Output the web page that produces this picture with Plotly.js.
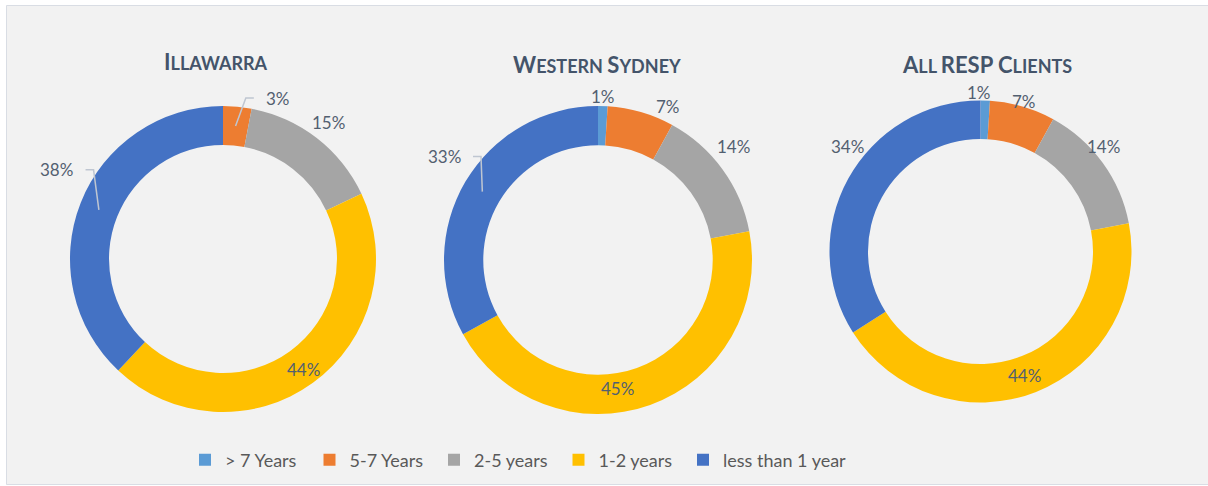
<!DOCTYPE html>
<html>
<head>
<meta charset="utf-8">
<script src="https://cdn.plot.ly/plotly-3.0.1.min.js"></script>
<style>html,body{margin:0;padding:0;background:#fff;}#chart{width:1208px;height:486px;}</style>
</head>
<body>
<div id="chart"></div>
<script>
const categories = ["> 7 Years", "5-7 Years", "2-5 years", "1-2 years", "less than 1 year"];
const illawarra = [0, 3, 15, 44, 38];
const westernSydney = [1, 7, 14, 45, 33];
const allResp = [1, 7, 14, 44, 34];
const chartTitles = [
  [['I', 22], ['LLAWARRA', 18]],
  [['W', 22], ['ESTERN ', 18], ['S', 22], ['YDNEY', 18]],
  [['A', 22], ['LL ', 18], ['RESP ', 22], ['C', 22], ['LIENTS', 18]]
];
const colors = ["#5b9bd5", "#ed7d31", "#a5a5a5", "#ffc000", "#4472c4"];

// ---- layout / style (pixels) ----
const W = 1208, H = 486;
const HOLE = 0.745;
const pies = [
  { cx: 223, cy: 259, r: 153 },
  { cx: 598, cy: 260, r: 154 },
  { cx: 980.5, cy: 251.5, r: 151 }
];
// label placement style per pie/slice: 'out' (outside), 'in' (inside ring), 'lead' (with leader line)
const labelStyle = [
  ['out', 'lead', 'out', 'in', 'lead'],
  ['out', 'out', 'out', 'in', 'lead'],
  ['out', 'out', 'out', 'in', 'out']
];
// small pixel nudges mimicking the original best-fit placement
const labelNudge = [
  [[0, 0], [42, -28], [0, 0], [2, 3], [-42, -40]],
  [[0, 2], [23, 8], [-6, -11], [-26, 2], [-38, -35]],
  [[-7, 3], [-2, 8], [-16, -4], [-4, 2], [18, -22]]
];
const LABEL_FONT = 17;
const labelFont = { family: 'Lato, sans-serif', size: LABEL_FONT, color: '#525f70' };
const LEADER_COLOR = '#bfc6d1';

function dom(p) {
  return { x: [(p.cx - p.r) / W, (p.cx + p.r) / W], y: [(H - p.cy - p.r) / H, (H - p.cy + p.r) / H] };
}
const series = [illawarra, westernSydney, allResp];

const traces = series.map((vals, i) => ({
  type: 'pie',
  labels: categories,
  values: vals,
  hole: HOLE,
  sort: false,
  direction: 'clockwise',
  rotation: 0,
  domain: dom(pies[i]),
  marker: { colors: colors, line: { width: 0 } },
  textinfo: 'none',
  hoverinfo: 'label+value',
  showlegend: true
}));
// invisible spacer entry so the last legend item is not clipped by the fixed entry width
traces.push({
  type: 'scatter', x: [null], y: [null], mode: 'markers', name: ' ',
  marker: { color: 'rgba(0,0,0,0)', size: 1 }, hoverinfo: 'skip', showlegend: true
});

const annotations = [];
const shapes = [{
  type: 'rect', xref: 'paper', yref: 'paper',
  x0: 6.5 / W, x1: 1.01, y0: 1.5 / H, y1: 1 - 5.5 / H,
  fillcolor: '#f2f2f2', line: { color: '#d9dde4', width: 1 }, layer: 'below'
}];
// titles
const titleX = [216, 597, 987];
const titleY = [62, 64, 64];
chartTitles.forEach((parts, i) => {
  annotations.push({
    text: '<b>' + parts.map(p => '<span style="font-size:' + p[1] + 'px">' + p[0] + '</span>').join('') + '</b>',
    xref: 'paper', yref: 'paper',
    x: titleX[i] / W, y: 1 - titleY[i] / H,
    xanchor: 'center', yanchor: 'middle', showarrow: false,
    font: { family: 'Lato, sans-serif', size: 18, color: '#44546a' }
  });
});

const fx = x => (x / W).toFixed(5);
const fy = y => (1 - y / H).toFixed(5);

// data labels computed from the values
series.forEach((vals, i) => {
  const p = pies[i];
  const total = vals.reduce((a, b) => a + b, 0);
  let cum = 0;
  vals.forEach((v, j) => {
    const mid = (cum + v / 2) / total * 2 * Math.PI;
    cum += v;
    if (v <= 0) return;
    const txt = v + '%';
    const sx = Math.sin(mid), cy = Math.cos(mid);
    const rMid = p.r * (1 + HOLE) / 2;
    const st = labelStyle[i][j];
    const nd = labelNudge[i][j];
    const w = (String(v).length * 0.58 + 0.8) * LABEL_FONT;
    let lx, ly;
    if (st === 'lead') {
      const px = p.cx + rMid * sx, py = p.cy - rMid * cy;
      lx = px + nd[0]; ly = py + nd[1];
      const dir = nd[0] < 0 ? -1 : 1;            // text side relative to the ring point
      const tX = lx - dir * (w / 2 + 12);
      const eX = tX - dir * 8;
      shapes.push({
        type: 'path', xref: 'paper', yref: 'paper',
        path: 'M' + fx(px) + ',' + fy(py) + ' L' + fx(eX) + ',' + fy(ly) + ' L' + fx(tX) + ',' + fy(ly),
        line: { color: LEADER_COLOR, width: 1.5 }
      });
    } else {
      let d;
      if (st === 'in') {
        d = rMid;
      } else {
        const h = LABEL_FONT * 1.05;
        d = p.r + Math.abs(sx) * w / 2 + Math.abs(cy) * h / 2 + 2;
      }
      lx = p.cx + d * sx + nd[0]; ly = p.cy - d * cy + nd[1];
    }
    annotations.push({
      text: txt, xref: 'paper', yref: 'paper',
      x: lx / W, y: 1 - ly / H, xanchor: 'center', yanchor: 'middle',
      showarrow: false, font: labelFont
    });
  });
});

const layout = {
  width: W, height: H,
  margin: { l: 0, r: 0, t: 0, b: 0 },
  paper_bgcolor: '#ffffff',
  plot_bgcolor: 'rgba(0,0,0,0)',
  xaxis: { visible: false },
  yaxis: { visible: false },
  shapes: shapes,
  annotations: annotations,
  legend: {
    orientation: 'h',
    x: 185 / W, xanchor: 'left',
    y: 1 - 460 / H, yanchor: 'middle',
    font: { family: 'Lato, sans-serif', size: 18, color: '#595959' },
    bgcolor: 'rgba(0,0,0,0)',
    itemwidth: 30,
    entrywidth: 79.5,
    traceorder: 'normal'
  },
  showlegend: true
};

Plotly.newPlot('chart', traces, layout, { displayModeBar: false, staticPlot: true });
</script>
</body>
</html>
